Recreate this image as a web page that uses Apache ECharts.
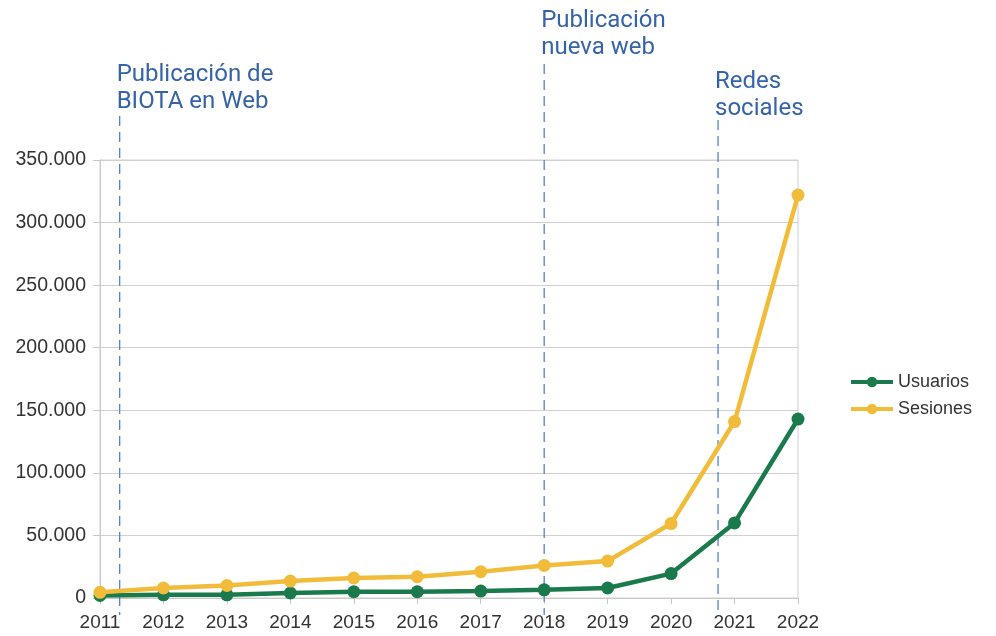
<!DOCTYPE html>
<html>
<head>
	<meta charset="utf-8">
	<title>BIOTA - Usuarios y Sesiones</title>
	<script src="https://cdn.jsdelivr.net/npm/echarts@6/dist/echarts.min.js"></script>
	<style>
		html, body { margin: 0; padding: 0; background: #fff; }
		#chart { width: 996px; height: 636px; }
	</style>
</head>
<body>
<div id="chart"></div>
<script>
	var years = [2011, 2012, 2013, 2014, 2015, 2016, 2017, 2018, 2019, 2020, 2021, 2022];
	var usuarios = [2000, 2500, 2500, 4000, 5000, 5000, 5500, 6500, 8000, 19500, 60000, 143000];
	var sesiones = [4500, 8000, 10000, 13500, 16000, 17000, 21000, 26000, 29500, 59500, 141000, 322000];
	var yTicks = [0, 50000, 100000, 150000, 200000, 250000, 300000, 350000];

	// annotations: where the dashed line falls on the year axis, and its text
	var annotYear = [2011.31, 2018, 2020.74];
	var annotText = ['Publicación de\nBIOTA en Web', 'Publicación\nnueva web', 'Redes\nsociales'];
	var annotTextTop = [61, 7, 68];
	var annotLineTop = [116, 64, 120];

	function pair(vals) {
		return years.map(function (y, i) { return [y, vals[i]]; });
	}
	function fmt(v) {
		return String(v).replace(/\B(?=(\d{3})+(?!\d))/g, '.');
	}

	var chart = echarts.init(document.getElementById('chart'));
	var font = 'Liberation Sans, Arial, sans-serif';

	chart.setOption({
		animation: false,
		grid: { left: 100, right: 198, top: 160, bottom: 38, show: true, borderColor: '#d0d0d0', borderWidth: 1 },
		legend: {
			orient: 'vertical', left: 844, top: 368, itemWidth: 42, itemHeight: 13, itemGap: 9,
			lineStyle: { width: 4 },
			textStyle: { color: '#333', fontSize: 18, fontFamily: font },
			data: ['Usuarios', 'Sesiones']
		},
		xAxis: {
			type: 'value', min: years[0], max: years[years.length - 1], interval: 1,
			axisLine: { lineStyle: { color: '#c8c8c8' } },
			axisTick: { show: true, length: 6, lineStyle: { color: '#c8c8c8' } },
			splitLine: { show: false },
			axisLabel: { margin: 15, color: '#333', fontSize: 19, fontFamily: font, formatter: function (v) { return String(v); } }
		},
		yAxis: {
			type: 'value', min: yTicks[0], max: yTicks[yTicks.length - 1], interval: yTicks[1] - yTicks[0],
			axisLine: { show: true, lineStyle: { color: '#c8c8c8' } },
			axisTick: { show: true, length: 7, lineStyle: { color: '#c8c8c8' } },
			splitLine: { lineStyle: { color: '#d0d0d0' } },
			axisLabel: { margin: 14, color: '#333', fontSize: 19.5, fontFamily: font, formatter: fmt }
		},
		series: [
			{
				name: 'Usuarios', type: 'line', data: pair(usuarios),
				symbol: 'circle', symbolSize: 13,
				lineStyle: { width: 4.5, color: '#1a7a4c' }, itemStyle: { color: '#1a7a4c' }
			},
			{
				name: 'Sesiones', type: 'line', data: pair(sesiones),
				symbol: 'circle', symbolSize: 13,
				lineStyle: { width: 4.5, color: '#f2bc3b' }, itemStyle: { color: '#f2bc3b' }
			}
		]
	});

	// dashed annotation lines + labels placed with the axis scale
	var bottomPx = chart.convertToPixel({ gridIndex: 0 }, [years[0], 0])[1] + 17;
	var graphics = [];
	annotYear.forEach(function (yr, i) {
		var x = chart.convertToPixel({ gridIndex: 0 }, [yr, 0])[0];
		graphics.push({
			type: 'line', z: 1,
			shape: { x1: x, y1: annotLineTop[i], x2: x, y2: bottomPx },
			style: { stroke: '#5183d2', lineWidth: 1.3, lineDash: [10, 6] }
		});
		graphics.push({
			type: 'text', z: 3, left: x - 3, top: annotTextTop[i],
			style: {
				text: annotText[i], fill: '#3563a8', fontSize: 24, lineHeight: 27,
				fontFamily: 'Roboto, sans-serif'
			}
		});
	});
	chart.setOption({ graphic: graphics });
</script>
</body>
</html>
